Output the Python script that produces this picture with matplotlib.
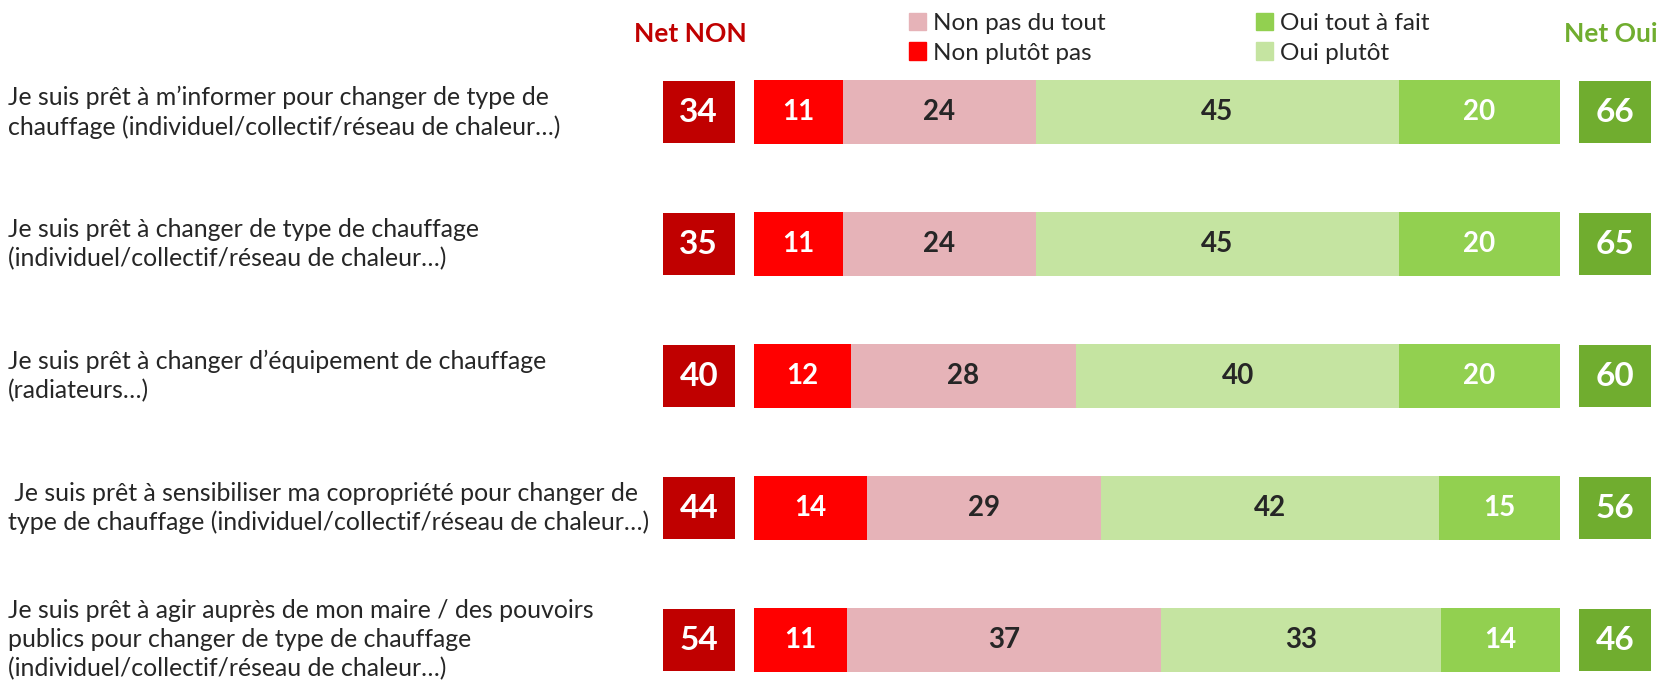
import matplotlib

matplotlib.use("Agg")
import matplotlib.pyplot as plt
import numpy as np
from matplotlib.patches import Patch
from matplotlib.transforms import blended_transform_factory

plt.rcParams["font.family"] = ["Lato", "DejaVu Sans"]

questions = [
    "Je suis prêt à m\u2019informer pour changer de type de\nchauffage (individuel/collectif/réseau de chaleur\u2026)",
    "Je suis prêt à changer de type de chauffage\n(individuel/collectif/réseau de chaleur\u2026)",
    "Je suis prêt à changer d\u2019équipement de chauffage\n(radiateurs\u2026)",
    " Je suis prêt à sensibiliser ma copropriété pour changer de\ntype de chauffage (individuel/collectif/réseau de chaleur\u2026)",
    "Je suis prêt à agir auprès de mon maire / des pouvoirs\npublics pour changer de type de chauffage\n(individuel/collectif/réseau de chaleur\u2026)",
]
non_plutot_pas = [11, 11, 12, 14, 11]
non_pas_du_tout = [24, 24, 28, 29, 37]
oui_plutot = [45, 45, 40, 42, 33]
oui_tout_a_fait = [20, 20, 20, 15, 14]
net_non = [34, 35, 40, 44, 54]
net_oui = [66, 65, 60, 56, 46]

series = [
    ("Non plutôt pas", non_plutot_pas, "#FF0000", "white"),
    ("Non pas du tout", non_pas_du_tout, "#E6B3B8", "#262626"),
    ("Oui plutôt", oui_plutot, "#C5E4A1", "#262626"),
    ("Oui tout à fait", oui_tout_a_fait, "#92D050", "white"),
]
NET_NON_COLOR = "#C00000"
NET_OUI_COLOR = "#70AD2F"

W, H = 1661, 686
fig = plt.figure(figsize=(W / 100, H / 100), dpi=100)
ax = fig.add_axes([0, 0, 1, 1])
ax.set_axis_off()

px_per_unit = 806 / 100  # bars span 100 %
bar_left_px = 754
row_px = 132
first_row_px = 112
ax.set_xlim(-bar_left_px / px_per_unit, (W - bar_left_px) / px_per_unit)
ax.set_ylim(4 + (H - first_row_px - 4 * row_px) / row_px, -first_row_px / row_px)

y = np.arange(len(questions))
totals = np.sum([s[1] for s in series], axis=0)
bar_h = 0.49

left = np.zeros(len(questions))
for name, vals, color, txt_color in series:
    share = np.array(vals) / totals * 100
    ax.barh(y, share, left=left, height=bar_h, color=color, edgecolor="none")
    for yi, l, w, v in zip(y, left, share, vals):
        ax.text(l + w / 2, yi, str(v), ha="center", va="center",
                fontsize=20, fontweight="bold", color=txt_color)
    left = left + share

# net boxes
non_left, box_w = -11.3, 8.9
oui_left = 102.4
box_h = 0.475
ax.barh(y, box_w, left=non_left, height=box_h, color=NET_NON_COLOR)
ax.barh(y, box_w, left=oui_left, height=box_h, color=NET_OUI_COLOR)
for yi, a, b in zip(y, net_non, net_oui):
    ax.text(non_left + box_w / 2, yi, str(a), ha="center", va="center",
            fontsize=24, fontweight="bold", color="white")
    ax.text(oui_left + box_w / 2, yi, str(b), ha="center", va="center",
            fontsize=24, fontweight="bold", color="white")

head_y = -first_row_px / row_px + 34 / row_px
ax.text(non_left + box_w / 2 - 1.0, head_y, "Net NON", ha="center", va="center",
        fontsize=19, fontweight="bold", color=NET_NON_COLOR)
ax.text(oui_left + box_w / 2 - 0.6, head_y, "Net Oui", ha="center", va="center",
        fontsize=19, fontweight="bold", color=NET_OUI_COLOR)

# question labels
trans = blended_transform_factory(fig.transFigure, ax.transData)
for yi, q in zip(y, questions):
    ax.text(8 / W, yi, q, transform=trans, ha="left", va="center",
            fontsize=17.9, color="#262626", linespacing=1.32)

# legend, two columns
col1 = [Patch(color=series[1][2], label=series[1][0]),
        Patch(color=series[0][2], label=series[0][0])]
col2 = [Patch(color=series[3][2], label=series[3][0]),
        Patch(color=series[2][2], label=series[2][0])]
leg_kw = dict(frameon=False, fontsize=17.5, handlelength=0.7, handleheight=0.7,
              handletextpad=0.3, labelspacing=0.36, borderaxespad=0,
              loc="upper left", labelcolor="#262626")
leg1 = fig.legend(handles=col1, bbox_to_anchor=(899 / W, 1 - 3 / H), **leg_kw)
leg2 = fig.legend(handles=col2, bbox_to_anchor=(1246 / W, 1 - 3 / H), **leg_kw)

fig.savefig("out.png", dpi=100)
